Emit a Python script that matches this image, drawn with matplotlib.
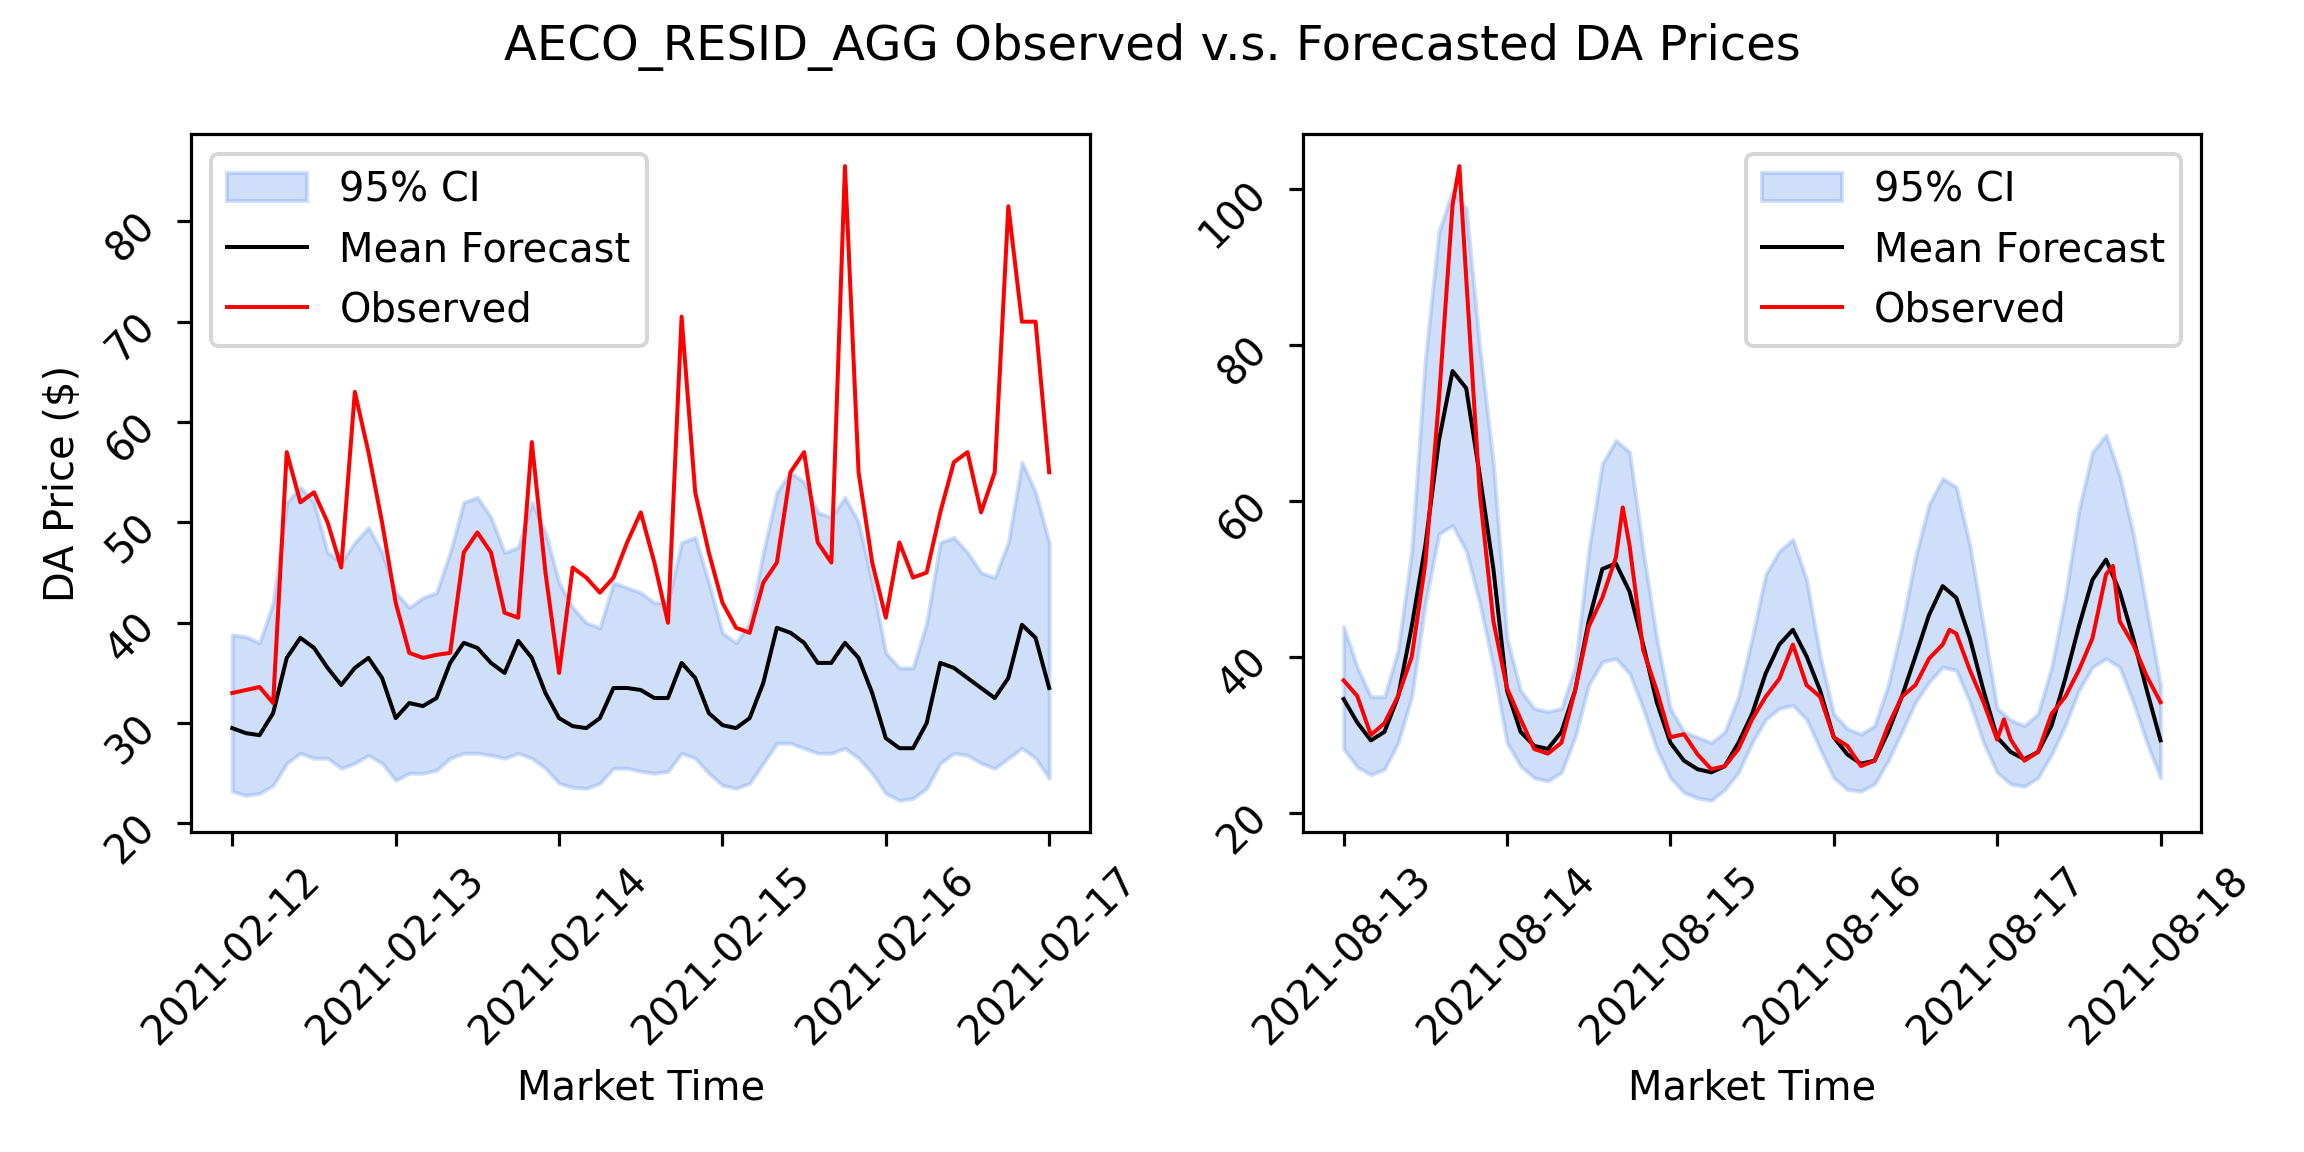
import numpy as np
import pandas as pd
import matplotlib
matplotlib.use("Agg")
import matplotlib.pyplot as plt

# ---- February window (2-hourly) ----
feb_start = pd.Timestamp("2021-02-12 00:00")
feb_hours = np.arange(0, 121, 2)
feb_obs = [33, 33.3, 33.6, 32, 57, 52, 53, 50, 45.5, 63, 57, 50,
           42, 37, 36.5, 36.8, 37, 47, 49, 47, 41, 40.5, 58, 45,
           35, 45.5, 44.5, 43, 44.5, 48, 51, 46, 40, 70.5, 53, 47,
           42, 39.5, 39, 44, 46, 55, 57, 48, 46, 85.5, 55, 46,
           40.5, 48, 44.5, 45, 51, 56, 57, 51, 55, 81.5, 70, 70, 55]
feb_mean = [29.5, 29, 28.8, 31, 36.5, 38.5, 37.5, 35.5, 33.8, 35.5, 36.5, 34.5,
            30.5, 32, 31.7, 32.5, 36, 38, 37.5, 36, 35, 38.2, 36.5, 33,
            30.5, 29.7, 29.5, 30.5, 33.5, 33.5, 33.3, 32.5, 32.5, 36, 34.5, 31,
            29.8, 29.5, 30.5, 34, 39.5, 39, 38, 36, 36, 38, 36.5, 33,
            28.5, 27.5, 27.5, 30, 36, 35.5, 34.5, 33.5, 32.5, 34.5, 39.8, 38.5, 33.5]
feb_upper = [38.8, 38.6, 38, 42, 52, 53.5, 52, 47, 46, 48, 49.5, 47,
             43, 41.5, 42.5, 43, 47, 52, 52.5, 50.5, 47, 47.5, 52, 49,
             44, 41.5, 40, 39.5, 44, 43.5, 43, 42, 42, 48, 48.5, 44,
             39, 38, 40, 47, 53, 55, 54, 51, 50.5, 52.5, 50, 44,
             37, 35.5, 35.5, 40, 48, 48.5, 47, 45, 44.5, 48, 56, 53, 48]
feb_lower = [23.2, 22.8, 23, 23.8, 26, 27, 26.5, 26.5, 25.5, 26, 26.8, 26,
             24.3, 25, 25, 25.3, 26.5, 27, 27, 26.8, 26.5, 27, 26.5, 25.5,
             24, 23.6, 23.5, 24, 25.5, 25.5, 25.2, 25, 25.2, 27, 26.5, 25,
             23.8, 23.5, 24, 26, 28, 28, 27.5, 27, 27, 27.5, 26.5, 25,
             23, 22.3, 22.5, 23.5, 26, 27, 26.8, 26, 25.5, 26.5, 27.5, 26.5, 24.5]

# ---- August window ----
aug_start = pd.Timestamp("2021-08-13 00:00")
aug_hours = np.arange(0, 121, 2)
aug_mean = [34.6, 31.6, 29.3, 30.4, 34.9, 43.9, 54.3, 67.8, 76.7, 74.5, 63.3, 51.3,
            35.7, 30.4, 28.6, 28.2, 30.4, 35.7, 44.6, 51.3, 52, 48.4, 41.6, 34.2,
            29, 26.7, 25.6, 25.2, 26, 29, 32.7, 37.9, 41.6, 43.5, 40.1, 35.7,
            29.7, 27.5, 26.3, 26.7, 30.4, 34.9, 40.1, 45.4, 49.1, 47.6, 42.4, 35.7,
            29.7, 27.8, 26.9, 27.8, 31.2, 37.2, 43.9, 49.9, 52.5, 48.4, 42.4, 35.7, 29.3]
aug_upper = [43.9, 38.7, 34.9, 34.9, 40.9, 53.6, 78.2, 94.6, 99.8, 97.6, 79.7, 64.8,
             42.4, 35.7, 33.4, 33, 33.4, 38.7, 53.6, 64.8, 67.8, 66.3, 53.6, 42.4,
             33.4, 30.4, 29.7, 29, 30.4, 34.9, 42.4, 50.6, 53.6, 55.1, 49.9, 40.1,
             32.7, 30.8, 30.1, 31.2, 36.4, 43.9, 52.8, 59.6, 62.9, 61.8, 54.3, 43.9,
             33.4, 31.9, 31.2, 32.7, 38.7, 47.6, 58.8, 66.3, 68.5, 63.3, 55.8, 46.1, 36.4]
aug_lower = [28.2, 25.9, 24.9, 25.6, 29, 34.9, 46.9, 55.8, 56.9, 53.6, 46.9, 38.7,
             29, 26, 24.5, 24.1, 25.2, 29.7, 36.4, 39.4, 39.8, 37.9, 33.4, 28.2,
             24.5, 22.6, 21.9, 21.6, 23, 25.2, 29, 32, 33.4, 33.8, 32, 28.2,
             24.5, 23, 22.8, 23.7, 26.7, 30.4, 34.2, 36.8, 38.7, 38.3, 34.2, 29,
             25.2, 23.7, 23.4, 24.5, 27.5, 31.2, 35.7, 38.7, 39.8, 38.7, 34.2, 29, 24.5]
aug_obs_hours = [0, 2, 4, 6, 8, 10, 12, 14, 16, 17, 18, 20, 22,
                 24, 26, 28, 30, 32, 34, 36, 38, 40, 41, 42, 44, 46,
                 48, 50, 52, 54, 56, 58, 60, 62, 64, 66, 68, 70,
                 72, 74, 76, 78, 80, 82, 84, 86, 88, 89, 90, 92, 94,
                 96, 97, 98, 100, 102, 104, 106, 108, 110, 112, 113, 114, 116, 118, 120]
aug_obs = [37, 35, 30, 31.5, 35, 40, 52, 73, 98, 103, 88.7, 61, 44.6,
           36, 32, 28.2, 27.6, 29, 35.7, 43.9, 47.6, 52.8, 59.2, 54.3, 40.9, 35.7,
           29.7, 30.1, 27.5, 25.6, 26, 28.2, 32, 34.9, 37.2, 41.6, 36.4, 34.9,
           29.7, 28.6, 26, 26.7, 31.2, 34.9, 36.4, 39.8, 41.6, 43.5, 43, 38.3, 34.2,
           29.4, 32, 29.4, 26.7, 27.8, 32.7, 34.9, 38.3, 42.4, 50.6, 51.7, 44.6, 41.6, 37.5, 34.2]

feb_t = feb_start + pd.to_timedelta(feb_hours, unit="h")
aug_t = aug_start + pd.to_timedelta(aug_hours, unit="h")
aug_obs_t = aug_start + pd.to_timedelta(aug_obs_hours, unit="h")

fig, axes = plt.subplots(1, 2, figsize=(8, 4), dpi=288)

panels = [
    (axes[0], feb_t, feb_lower, feb_upper, feb_mean, feb_t, feb_obs, "upper left"),
    (axes[1], aug_t, aug_lower, aug_upper, aug_mean, aug_obs_t, aug_obs, "upper right"),
]
for ax, t, lo, hi, mean, ot, obs, loc in panels:
    ax.fill_between(t, lo, hi, facecolor="cornflowerblue", alpha=0.3,
                    edgecolor="cornflowerblue", lw=1.0, label="95% CI")
    ax.plot(t, mean, color="black", lw=1.0, label="Mean Forecast")
    ax.plot(ot, obs, color="red", lw=1.0, label="Observed")
    ax.set_xlabel("Market Time")
    ax.tick_params(axis="x", rotation=45)
    ax.tick_params(axis="y", rotation=45)
    ax.legend(loc=loc)

axes[1].set_yticks([20, 40, 60, 80, 100])
axes[0].set_ylabel("DA Price ($)")
fig.suptitle("AECO_RESID_AGG Observed v.s. Forecasted DA Prices")
fig.tight_layout()
fig.savefig("out.png")
